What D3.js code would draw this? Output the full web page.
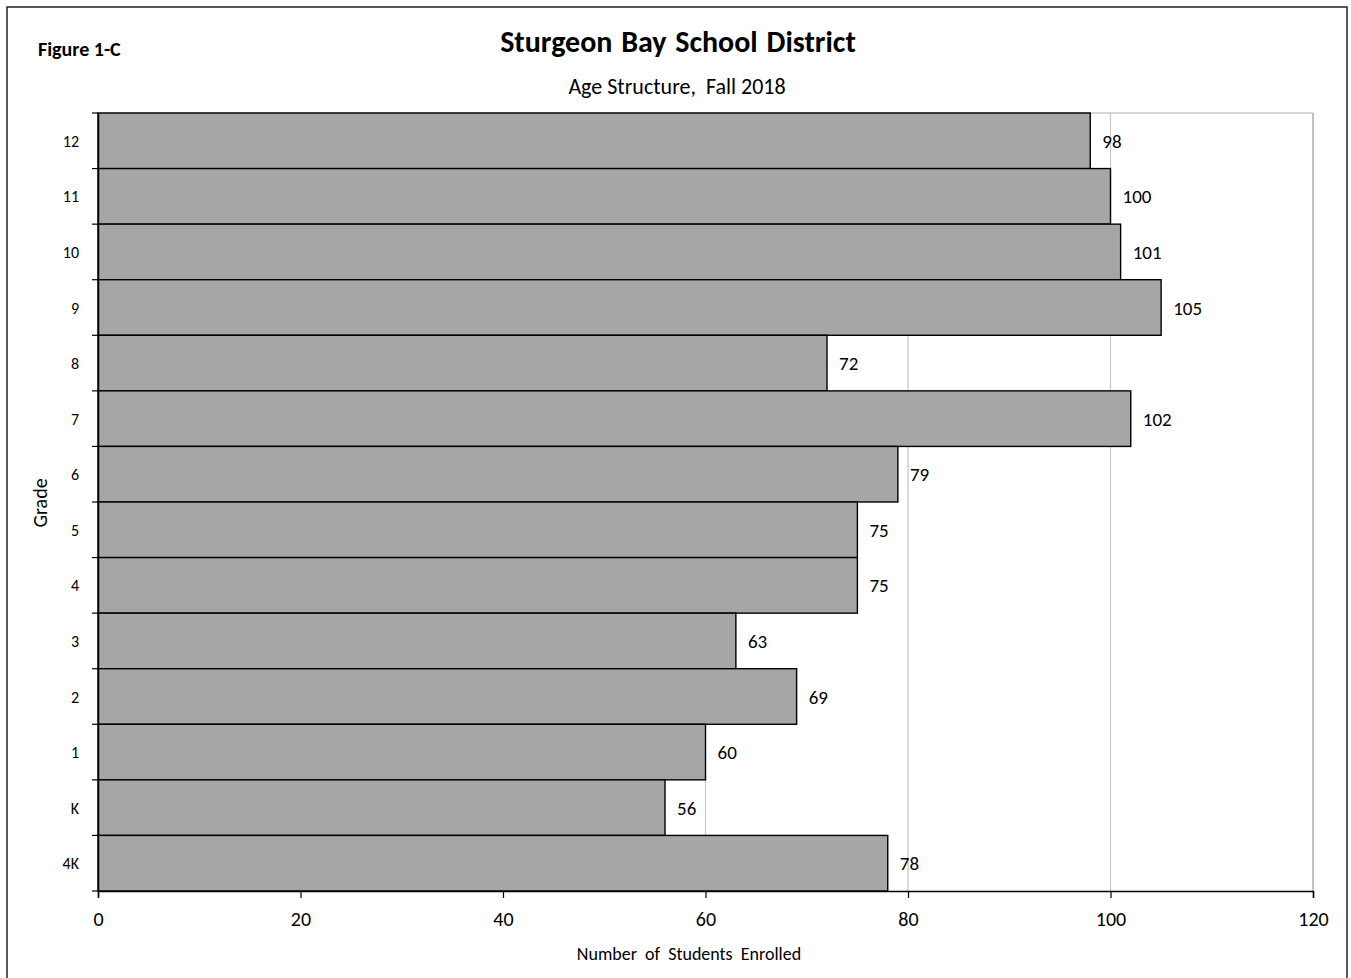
<!DOCTYPE html>
<html>
<head>
<meta charset="utf-8">
<script src="https://cdn.jsdelivr.net/npm/d3@7"></script>
<style>
  html, body { margin: 0; padding: 0; background: #fff; }
  svg text { font-family: Carlito, Calibri, Lato, "Open Sans", sans-serif; fill: #000; }
</style>
</head>
<body>
<svg id="chart" width="1351" height="978"></svg>
<script>
const grades = ["12", "11", "10", "9", "8", "7", "6", "5", "4", "3", "2", "1", "K", "4K"];
const enrolled = [98, 100, 101, 105, 72, 102, 79, 75, 75, 63, 69, 60, 56, 78];
const xTicks = [0, 20, 40, 60, 80, 100, 120];
const gridValues = [60, 80, 100, 120];

(function () {
const svg = d3.select("#chart");
const pLeft = 98, pRight = 1313, pTop = 113, pBottom = 891;
const FONT = "Carlito, Calibri, Lato, 'Open Sans', sans-serif";

// outer frame
svg.append("rect").attr("x", 7).attr("y", 7).attr("width", 1340).attr("height", 980)
  .attr("fill", "#fff").attr("stroke", "#222").attr("stroke-width", 1.5);

const x = d3.scaleLinear().domain([0, 120]).range([pLeft, pRight]);
const y = d3.scaleBand().domain(grades).range([pTop, pBottom]).padding(0);

// gridlines
svg.append("g").selectAll("line").data(gridValues).join("line")
  .attr("x1", d => x(d)).attr("x2", d => x(d))
  .attr("y1", pTop).attr("y2", pBottom)
  .attr("stroke", "#c6c6c6").attr("stroke-width", 1.2);

// plot top/right border
svg.append("line").attr("x1", pLeft).attr("x2", pRight).attr("y1", pTop).attr("y2", pTop)
  .attr("stroke", "#b0b0b0").attr("stroke-width", 1.2);
svg.append("line").attr("x1", pRight).attr("x2", pRight).attr("y1", pTop).attr("y2", pBottom)
  .attr("stroke", "#b0b0b0").attr("stroke-width", 1.2);

// bars
svg.append("g").selectAll("rect").data(grades).join("rect")
  .attr("x", x(0))
  .attr("y", d => y(d))
  .attr("width", (d, i) => x(enrolled[i]) - x(0))
  .attr("height", y.bandwidth())
  .attr("fill", "#a6a6a6")
  .attr("stroke", "#000").attr("stroke-width", 1.4);

// value labels
svg.append("g").selectAll("text").data(grades).join("text")
  .attr("x", (d, i) => x(enrolled[i]) + 12)
  .attr("y", d => y(d) + y.bandwidth() / 2 + 7)
  .attr("font-size", 19)
  .text((d, i) => enrolled[i]);

// x axis
const xAxis = d3.axisBottom(x).tickValues(xTicks).tickSize(7).tickPadding(0).tickFormat(d3.format("d"));
const gx = svg.append("g").attr("transform", `translate(0,${pBottom})`).call(xAxis);
gx.select(".domain").attr("stroke", "#000").attr("stroke-width", 1.5);
gx.selectAll(".tick line").attr("stroke", "#000").attr("stroke-width", 1.2);
gx.selectAll(".tick text").attr("font-size", 20).attr("font-family", FONT)
  .attr("dy", null).attr("y", 35);

// y axis: ticks at band boundaries
const yAxis = d3.axisLeft(y).tickSize(0).tickPadding(19);
const gy = svg.append("g").attr("transform", `translate(${pLeft},0)`).call(yAxis);
gy.select(".domain").attr("stroke", "#000").attr("stroke-width", 1.5);
gy.selectAll(".tick text").attr("font-size", 16).attr("font-family", FONT)
  .attr("dy", null).attr("y", 6);
const bounds = grades.map(g => y(g)).concat([pBottom]);
svg.append("g").selectAll("line").data(bounds).join("line")
  .attr("x1", pLeft - 6).attr("x2", pLeft)
  .attr("y1", d => d).attr("y2", d => d)
  .attr("stroke", "#000").attr("stroke-width", 1.2);

// titles
svg.append("text").attr("x", 678).attr("y", 52).attr("text-anchor", "middle")
  .attr("font-size", 30).attr("font-weight", "bold").attr("word-spacing", 2)
  .text("Sturgeon Bay School District");
svg.append("text").attr("x", 677).attr("y", 94).attr("text-anchor", "middle")
  .attr("font-size", 22).attr("xml:space", "preserve")
  .text("Age Structure,  Fall 2018");
svg.append("text").attr("x", 38).attr("y", 56)
  .attr("font-size", 20).attr("font-weight", "bold").text("Figure 1-C");
svg.append("text").attr("transform", "translate(47,503) rotate(-90)").attr("text-anchor", "middle")
  .attr("font-size", 20).text("Grade");
svg.append("text").attr("x", 689).attr("y", 960).attr("text-anchor", "middle")
  .attr("font-size", 18).attr("word-spacing", 4).text("Number of Students Enrolled");
})();
</script>
</body>
</html>
